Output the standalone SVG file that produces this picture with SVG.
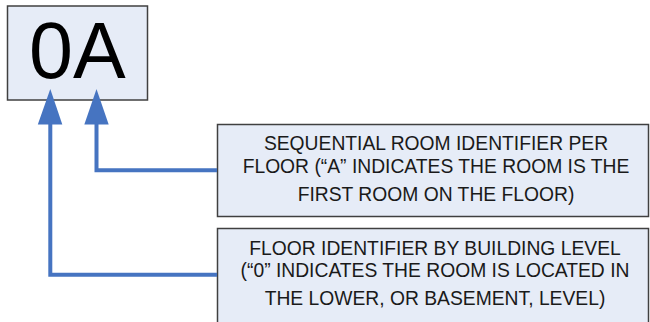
<svg xmlns="http://www.w3.org/2000/svg" width="650" height="322" viewBox="0 0 650 322">
<style>
.box{fill:#e6ecf7;stroke:#404040;stroke-width:1.5}
.lbl{font-family:"Liberation Sans",Arial,sans-serif;font-size:19.3px;fill:#1a1a1a;text-anchor:middle}
.big{font-family:"Liberation Sans",Arial,sans-serif;font-size:79px;fill:#000}
.conn{fill:none;stroke:#4674c1;stroke-width:4}
.head{fill:#4674c1}
</style>
<rect width="650" height="322" fill="#fff"/>
<g id="code">
<rect class="box" x="7.5" y="6" width="140" height="94"/>
<text class="big" x="29" y="78">0A</text>
</g>
<g id="room-note">
<rect class="box" x="217.5" y="124.5" width="431" height="92"/>
<text class="lbl" x="436" y="149.5">SEQUENTIAL ROOM IDENTIFIER PER</text>
<text class="lbl" x="436" y="172.5">FLOOR (“A” INDICATES THE ROOM IS THE</text>
<text class="lbl" x="436" y="201">FIRST ROOM ON THE FLOOR)</text>
</g>
<g id="floor-note">
<rect class="box" x="217.5" y="228.5" width="431" height="100"/>
<text class="lbl" x="435" y="254.5">FLOOR IDENTIFIER BY BUILDING LEVEL</text>
<text class="lbl" x="435" y="277">(“0” INDICATES THE ROOM IS LOCATED IN</text>
<text class="lbl" x="435" y="305">THE LOWER, OR BASEMENT, LEVEL)</text>
</g>
<g id="connectors">
<polyline class="conn" points="217,170.3 96.5,170.3 96.5,122"/>
<polygon class="head" points="96.5,89 84.3,124.5 108.7,124.5"/>
<polyline class="conn" points="217,274.7 50.3,274.7 50.3,122"/>
<polygon class="head" points="50.3,89 37.8,124.5 62.3,124.5"/>
</g>
</svg>
